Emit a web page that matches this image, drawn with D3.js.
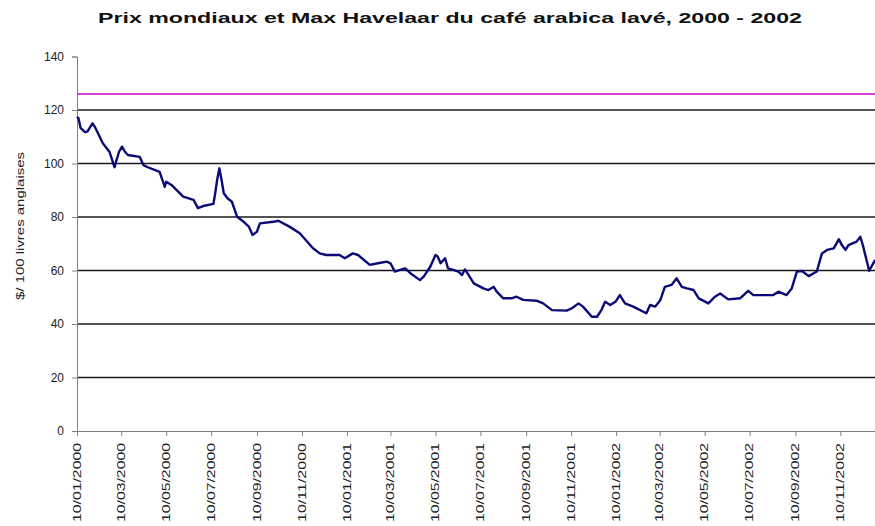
<!DOCTYPE html>
<html>
<head>
<meta charset="utf-8">
<script src="https://cdn.jsdelivr.net/npm/d3@7"></script>
<style>
  body { margin: 0; background: #fff; }
  svg { display: block; font-family: 'Liberation Sans', Arial, sans-serif; }
</style>
</head>
<body>
<div id="graf"></div>
<script>
// dates de cotation (jour/mois/année) et prix en $ / 100 livres
const dates = [
  '10/01/2000', '12/01/2000', '15/01/2000', '21/01/2000', '24/01/2000', '31/01/2000', '03/02/2000', '14/02/2000',
  '23/02/2000', '28/02/2000', '01/03/2000', '03/03/2000', '07/03/2000', '11/03/2000', '15/03/2000', '19/03/2000',
  '04/04/2000', '09/04/2000', '15/04/2000', '01/05/2000', '08/05/2000', '10/05/2000', '17/05/2000', '02/06/2000',
  '16/06/2000', '22/06/2000', '29/06/2000', '13/07/2000', '15/07/2000', '18/07/2000', '21/07/2000', '24/07/2000',
  '27/07/2000', '01/08/2000', '07/08/2000', '14/08/2000', '23/08/2000', '30/08/2000', '04/09/2000', '10/09/2000',
  '14/09/2000', '02/10/2000', '09/10/2000', '24/10/2000', '07/11/2000', '25/11/2000', '04/12/2000', '13/12/2000',
  '31/12/2000',
  '07/01/2001', '18/01/2001', '25/01/2001', '10/02/2001', '21/02/2001', '05/03/2001', '10/03/2001', '16/03/2001',
  '23/03/2001', '30/03/2001', '06/04/2001', '19/04/2001', '24/04/2001', '03/05/2001', '10/05/2001', '13/05/2001',
  '17/05/2001', '23/05/2001', '27/05/2001', '03/06/2001', '10/06/2001', '15/06/2001', '19/06/2001', '24/06/2001',
  '01/07/2001', '14/07/2001', '21/07/2001', '28/07/2001', '01/08/2001', '10/08/2001', '21/08/2001', '28/08/2001',
  '06/09/2001', '24/09/2001', '03/10/2001', '15/10/2001', '04/11/2001', '11/11/2001', '20/11/2001', '26/11/2001',
  '08/12/2001', '15/12/2001', '21/12/2001', '26/12/2001',
  '02/01/2002', '09/01/2002', '15/01/2002', '22/01/2002', '02/02/2002', '20/02/2002', '25/02/2002', '04/03/2002',
  '11/03/2002', '17/03/2002', '26/03/2002', '02/04/2002', '09/04/2002', '16/04/2002', '25/04/2002', '02/05/2002',
  '15/05/2002', '24/05/2002', '31/05/2002', '11/06/2002', '27/06/2002', '08/07/2002', '15/07/2002', '11/08/2002',
  '18/08/2002', '29/08/2002', '05/09/2002', '12/09/2002', '19/09/2002', '28/09/2002', '09/10/2002', '16/10/2002',
  '23/10/2002', '01/11/2002', '08/11/2002', '12/11/2002', '17/11/2002', '21/11/2002', '02/12/2002', '07/12/2002',
  '11/12/2002', '19/12/2002', '27/12/2002'
]

const prixMondial = [
  117.5, 116.9, 113.2, 111.7, 111.9, 115.0, 113.8, 107.6,
  104.4, 100.1, 98.6, 100.7, 104.4, 106.3, 104.4, 103.2,
  102.5, 99.4, 98.6, 96.9, 91.3, 93.2, 92.0, 87.6,
  86.4, 83.3, 84.1, 84.9, 88.2, 93.8, 98.2, 93.8,
  88.9, 87.0, 85.7, 80.1, 78.2, 76.4, 73.3, 74.5,
  77.6, 78.2, 78.6, 76.4, 73.9, 68.3, 66.4, 65.8,
  65.8,
  64.6, 66.4, 65.8, 62.1, 62.7, 63.3, 62.7, 59.6,
  60.2, 60.8, 59.0, 56.4, 57.7, 61.4, 65.8, 65.2,
  62.7, 64.6, 60.8, 60.2, 59.6, 58.3, 60.4, 58.3,
  55.2, 53.3, 52.7, 53.9, 52.1, 49.6, 49.6, 50.2,
  49.0, 48.7, 47.7, 45.2, 45.0, 45.9, 47.7, 46.5,
  42.7, 42.7, 45.2, 48.3,
  47.1, 48.3, 50.8, 47.7, 46.5, 44.0, 47.1, 46.5,
  49.0, 53.9, 54.6, 57.1, 53.9, 53.3, 52.7, 49.6,
  47.7, 50.2, 51.4, 49.2, 49.6, 52.4, 50.8, 50.8,
  52.1, 50.8, 53.3, 59.6, 59.8, 57.9, 59.6, 66.4,
  67.7, 68.3, 71.7, 69.5, 67.7, 69.5, 70.8, 72.6,
  68.9, 59.9, 63.9
]

// prix minimum Max Havelaar
const prixMaxHavelaar = 126

const tickLabels = [
  '10/01/2000', '10/03/2000', '10/05/2000', '10/07/2000', '10/09/2000', '10/11/2000',
  '10/01/2001', '10/03/2001', '10/05/2001', '10/07/2001', '10/09/2001', '10/11/2001',
  '10/01/2002', '10/03/2002', '10/05/2002', '10/07/2002', '10/09/2002', '10/11/2002'
]
const yTicks = [0, 20, 40, 60, 80, 100, 120, 140]
const gridTicks = [20, 40, 60, 80, 100, 120]

const anchoTotal = 875
const altoTotal = 526

const margin = { top: 56.5, left: 77, bottom: 95, right: -3 }
const ancho = anchoTotal - margin.left - margin.right
const alto = altoTotal - margin.top - margin.bottom

const parse = d3.timeParse('%d/%m/%Y')
const data = dates.map((d, i) => ({ fecha: parse(d), valor: prixMondial[i] }))

const svg = d3.select('#graf')
  .append('svg')
  .attr('width', anchoTotal)
  .attr('height', altoTotal)

const g = svg.append('g')
  .attr('transform', `translate(${margin.left}, ${margin.top})`)

const x = d3.scaleTime()
  .domain([parse('10/01/2000'), parse('31/12/2002')])
  .range([0, ancho])

const y = d3.scaleLinear()
  .domain([0, 140])
  .range([alto, 0])

// grille horizontale
g.append('g')
  .selectAll('line')
  .data(gridTicks)
  .join('line')
    .attr('x1', 0)
    .attr('x2', ancho)
    .attr('y1', d => y(d))
    .attr('y2', d => y(d))
    .attr('stroke', '#1a1a1a')
    .attr('stroke-width', 1.3)

// axe Y
const yAxisGroup = g.append('g')
  .call(d3.axisLeft(y).tickValues(yTicks).tickSize(5).tickPadding(8))
yAxisGroup.select('.domain').attr('stroke', '#808080')
yAxisGroup.selectAll('.tick line').attr('stroke', '#808080')
yAxisGroup.selectAll('text')
  .attr('font-size', 12)
  .attr('fill', '#222')
  .attr('font-family', "'Liberation Sans', Arial, sans-serif")

// axe X
const xAxisGroup = g.append('g')
  .attr('transform', `translate(0, ${alto})`)
  .call(d3.axisBottom(x).tickValues(tickLabels.map(parse)).tickSize(5).tickFormat(''))
xAxisGroup.select('.domain').attr('stroke', '#808080')
xAxisGroup.selectAll('.tick line').attr('stroke', '#808080')

g.append('g')
  .selectAll('text')
  .data(tickLabels)
  .join('text')
    .attr('transform', d => `translate(${x(parse(d))}, ${alto + 12}) rotate(-90)`)
    .attr('text-anchor', 'end')
    .attr('dy', '0.36em')
    .attr('font-size', 10)
    .attr('fill', '#222')
    .attr('textLength', 79)
    .attr('lengthAdjust', 'spacingAndGlyphs')
    .text(d => d)

// ligne Max Havelaar
g.append('line')
  .attr('x1', 0)
  .attr('x2', ancho)
  .attr('y1', y(prixMaxHavelaar))
  .attr('y2', y(prixMaxHavelaar))
  .attr('stroke', '#d044d0')
  .attr('stroke-width', 2)

// prix mondial
const linea = d3.line()
  .x(d => x(d.fecha))
  .y(d => y(d.valor))

g.append('path')
  .datum(data)
  .attr('fill', 'none')
  .attr('stroke', '#0b0b78')
  .attr('stroke-width', 2.4)
  .attr('stroke-linejoin', 'round')
  .attr('d', linea)

// titre
svg.append('text')
  .attr('x', 98)
  .attr('y', 23)
  .attr('font-size', 14)
  .attr('font-weight', 'bold')
  .attr('fill', '#111')
  .attr('textLength', 704)
  .attr('lengthAdjust', 'spacingAndGlyphs')
  .text('Prix mondiaux et Max Havelaar du café arabica lavé, 2000 - 2002')

// titre axe Y
svg.append('text')
  .attr('transform', 'translate(24, 300) rotate(-90)')
  .attr('font-size', 11)
  .attr('fill', '#222')
  .attr('textLength', 148)
  .attr('lengthAdjust', 'spacingAndGlyphs')
  .text('$/ 100 livres anglaises')
</script>
</body>
</html>
